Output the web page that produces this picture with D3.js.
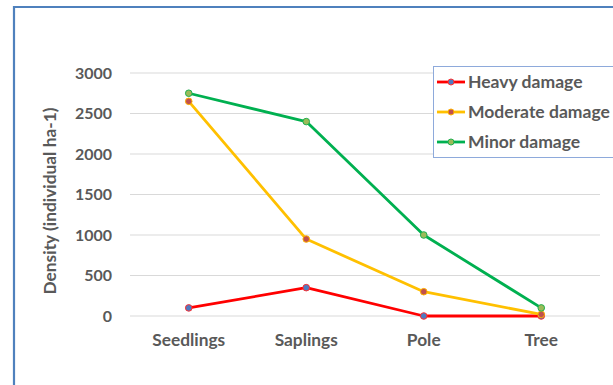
<!DOCTYPE html>
<html><head><meta charset="utf-8">
<script src="https://cdn.jsdelivr.net/npm/d3@7"></script>
<style>body{margin:0;background:#fff;}svg{display:block;}</style>
</head><body>
<svg id="c" width="613" height="385"></svg>
<script>
const categories = ["Seedlings", "Saplings", "Pole", "Tree"];
const heavy = [100, 350, 0, 0];
const moderate = [2650, 950, 300, 20];
const minor = [2750, 2400, 1000, 100];
const yTicks = [0, 500, 1000, 1500, 2000, 2500, 3000];
const seriesNames = ["Heavy damage", "Moderate damage", "Minor damage"];

const series = [
  {name: seriesNames[0], values: heavy, line: "#ff0000", fill: "#4f7ac0", stroke: "#ff3030"},
  {name: seriesNames[1], values: moderate, line: "#ffc000", fill: "#c0504d", stroke: "#ffb000"},
  {name: seriesNames[2], values: minor, line: "#00b050", fill: "#9bbb59", stroke: "#20b050"}
];

const svg = d3.select("#c");
const font = "Lato, 'Open Sans', sans-serif";
const grey = "#595959";

// fit a text selection's font-size so a reference element gets a target width
function fit(sel, refNode, target) {
  const w = refNode.getComputedTextLength();
  const fs = parseFloat(d3.select(refNode).attr("font-size"));
  sel.attr("font-size", (fs * target / w).toFixed(2));
}

// border
svg.append("path").attr("d", "M14,385 V7 H613").attr("fill","none").attr("stroke","#4f81bd").attr("stroke-width",2.2);

const x = d3.scaleBand().domain(categories).range([130, 600]);
const y = d3.scaleLinear().domain([0, 3000]).range([316, 73]);

// gridlines
svg.append("g").selectAll("line").data(yTicks).join("line")
  .attr("x1", 130).attr("x2", 600)
  .attr("y1", d => y(d)).attr("y2", d => y(d))
  .attr("stroke", "#d9d9d9").attr("stroke-width", 1);

// y axis
const yAxis = svg.append("g").attr("transform", "translate(112,0)")
  .call(d3.axisLeft(y).tickValues(yTicks).tickFormat(d3.format("d")).tickSize(0).tickPadding(0));
yAxis.select(".domain").remove();
const yt = yAxis.selectAll("text").attr("font-family", font).attr("font-weight", "bold")
  .attr("font-size", 14).attr("fill", grey);
fit(yt, yt.filter(d => d === 3000).node(), 37);

// x axis
const xAxis = svg.append("g").attr("transform", "translate(0,0)")
  .call(d3.axisBottom(x).tickSize(0).tickPadding(0));
xAxis.select(".domain").remove();
const xt = xAxis.selectAll("text").attr("font-family", font).attr("font-weight", "bold")
  .attr("font-size", 14).attr("fill", grey).attr("dy", null).attr("y", 346);
fit(xt, xt.filter(d => d === "Seedlings").node(), 73);

// y title
const title = svg.append("text").attr("transform", "translate(49.5,201) rotate(-90)")
  .attr("text-anchor", "middle").attr("dy", "0.35em").attr("font-family", font).attr("font-weight", "bold")
  .attr("font-size", 14).attr("fill", grey).text("Density (individual ha-1)");
fit(title, title.node(), 187);

const cx = c => x(c) + x.bandwidth() / 2;
const line = d3.line().x((d, i) => cx(categories[i])).y(d => y(d));

series.forEach(s => {
  svg.append("path").datum(s.values).attr("d", line)
    .attr("fill", "none").attr("stroke", s.line).attr("stroke-width", 2.8)
    .attr("stroke-linejoin", "round");
});
series.forEach(s => {
  svg.append("g").selectAll("circle").data(s.values).join("circle")
    .attr("cx", (d, i) => cx(categories[i])).attr("cy", d => y(d)).attr("r", 3.3)
    .attr("fill", s.fill).attr("stroke", s.stroke).attr("stroke-width", 1);
});

// legend
const lg = svg.append("g");
lg.append("rect").attr("x", 433.5).attr("y", 66.5).attr("width", 190).attr("height", 91)
  .attr("fill", "#fff").attr("stroke", "#8eaadb").attr("stroke-width", 1);
series.forEach((s, i) => {
  const yy = 82 + i * 30;
  lg.append("line").attr("x1", 437).attr("x2", 465).attr("y1", yy).attr("y2", yy)
    .attr("stroke", s.line).attr("stroke-width", 2.8);
  lg.append("circle").attr("cx", 451).attr("cy", yy).attr("r", 3)
    .attr("fill", s.fill).attr("stroke", s.stroke).attr("stroke-width", 1);
});
const lt = lg.selectAll("text.lt").data(series).join("text").attr("class", "lt")
  .attr("x", 468).attr("y", (s, i) => 82 + i * 30).attr("dy", "0.35em")
  .attr("font-family", font).attr("font-weight", "bold").attr("font-size", 14)
  .attr("fill", grey).text(s => s.name);
fit(lt, lt.filter(s => s.name === "Moderate damage").node(), 142);
</script>
</body></html>
